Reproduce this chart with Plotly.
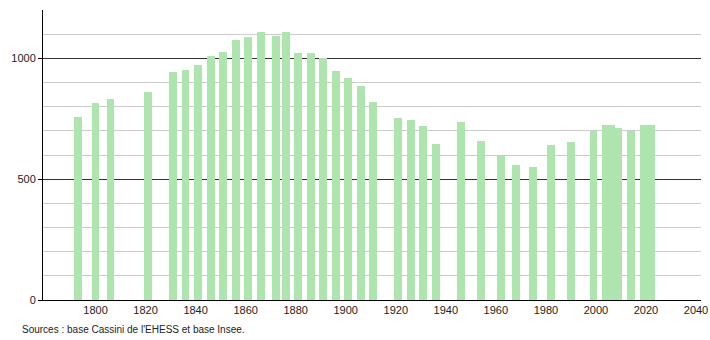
import plotly.graph_objects as go

years = [1793, 1800, 1806, 1821, 1831, 1836, 1841, 1846, 1851, 1856, 1861, 1866,
         1872, 1876, 1881, 1886, 1891, 1896, 1901, 1906, 1911, 1921, 1926, 1931,
         1936, 1946, 1954, 1962, 1968, 1975, 1982, 1990, 1999, 2004, 2006, 2009,
         2014, 2019, 2022]
population = [756, 815, 833, 861, 945, 952, 973, 1011, 1027, 1076, 1090, 1108,
              1094, 1110, 1022, 1022, 1001, 949, 918, 884, 818, 755, 743, 718,
              644, 735, 657, 595, 557, 552, 640, 653, 701, 723, 723, 710,
              701, 723, 723]
x_ticks = [1800, 1820, 1840, 1860, 1880, 1900, 1920, 1940, 1960, 1980, 2000, 2020, 2040]
y_ticks = [0, 500, 1000]
source_text = "Sources : base Cassini de l'EHESS et base Insee."

fig = go.Figure()
fig.add_trace(go.Bar(
    x=years, y=population, width=3.1,
    marker=dict(color="#aee4ae", line=dict(width=0)),
    hoverinfo="x+y",
))

font = dict(family="Liberation Sans, Arial, sans-serif", size=11, color="#222222")

fig.update_layout(
    width=710, height=340,
    margin=dict(l=43, r=9, t=10, b=40),
    paper_bgcolor="white", plot_bgcolor="white",
    showlegend=False,
    font=font,
    xaxis=dict(
        range=[1779, 2042], automargin=False,
        tickmode="array", tickvals=x_ticks, ticktext=[str(v) for v in x_ticks],
        showgrid=False, zeroline=False,
        showline=True, linecolor="#000000", linewidth=1,
        ticks="", tickfont=font,
    ),
    yaxis=dict(
        range=[0, 1200], automargin=False,
        tickmode="array", tickvals=y_ticks, ticktext=[str(v) for v in y_ticks],
        showgrid=True, gridcolor="#333333", gridwidth=1,
        zeroline=False,
        showline=True, linecolor="#000000", linewidth=1,
        ticks="outside", ticklen=4, tickcolor="#000000",
        tickfont=font,
        minor=dict(dtick=100, tick0=0, showgrid=True, gridcolor="#cccccc",
                   gridwidth=1, ticks=""),
        layer="below traces",
    ),
    bargap=0,
    annotations=[dict(
        text=source_text, xref="paper", yref="paper",
        x=-23 / 658, y=-0.075, xanchor="left", yanchor="top",
        showarrow=False, font=dict(family="Liberation Sans, Arial, sans-serif", size=10, color="#222222"),
    )],
)

fig.write_html("out.html")
